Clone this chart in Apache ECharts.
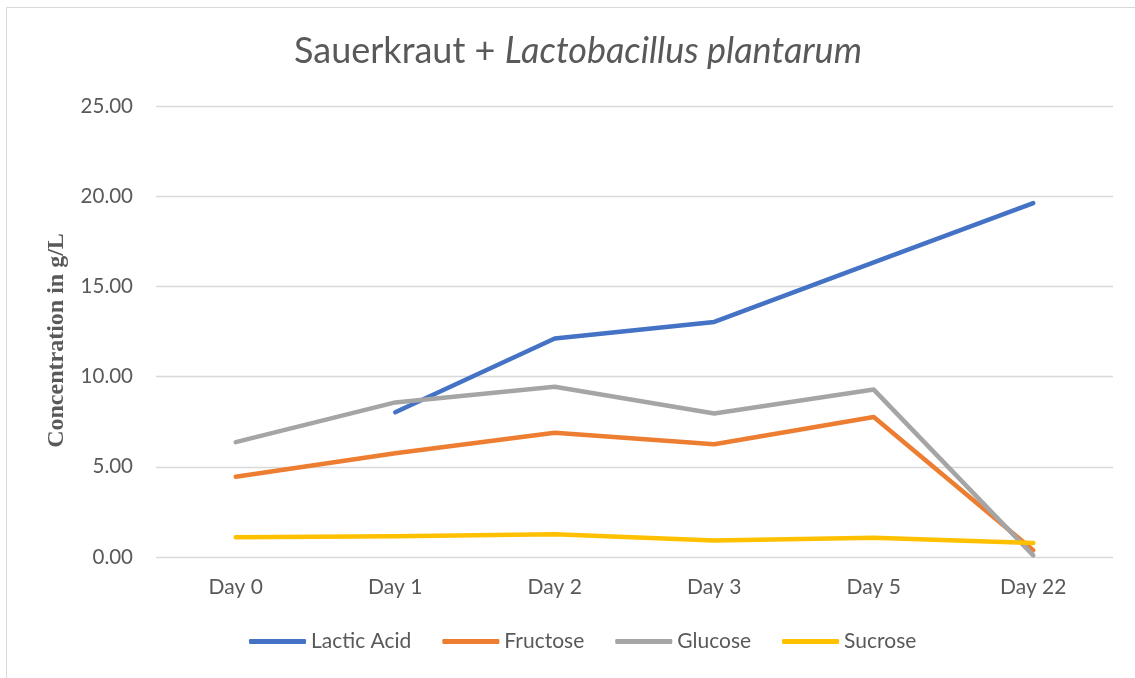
<!DOCTYPE html>
<html>
<head>
<meta charset="utf-8">
<script src="https://cdn.jsdelivr.net/npm/echarts@6/dist/echarts.min.js"></script>
<style>
  html, body { margin: 0; padding: 0; background: #fff; }
  #chart { width: 1135px; height: 678px; }
</style>
</head>
<body>
<div id="chart"></div>
<script>
// Sampling days
const days = ['Day 0', 'Day 1', 'Day 2', 'Day 3', 'Day 5', 'Day 22'];

// Concentrations in g/L (null = not measured)
const lacticAcid = [null, 8.02, 12.11, 13.03, 16.33, 19.62];
const fructose   = [4.45, 5.75, 6.89, 6.25, 7.76, 0.37];
const glucose    = [6.37, 8.57, 9.44, 7.95, 9.28, 0.09];
const sucrose    = [1.09, 1.15, 1.26, 0.92, 1.07, 0.78];

const seriesNames  = ['Lactic Acid', 'Fructose', 'Glucose', 'Sucrose'];
const seriesData   = [lacticAcid, fructose, glucose, sucrose];
const seriesColors = ['#4472C4', '#ED7D31', '#A5A5A5', '#FFC000'];

const textColor = '#595959';
const uiFont = 'Lato, "Open Sans", sans-serif';

const chart = echarts.init(document.getElementById('chart'), null, { renderer: 'canvas' });

chart.setOption({
  animation: false,
  backgroundColor: '#ffffff',
  title: {
    text: '{n|Sauerkraut + }{i|Lactobacillus plantarum}',
    left: 289,
    top: 28,
    textStyle: {
      rich: {
        n: { fontFamily: uiFont, fontSize: 36, color: textColor, fontWeight: 'normal' },
        i: { fontFamily: uiFont, fontSize: 36, color: textColor, fontStyle: 'italic', fontWeight: 'normal' }
      }
    }
  },
  graphic: [{
    type: 'rect',
    shape: { x: 6.5, y: 7.5, width: 1300, height: 1000 },
    style: { fill: 'none', stroke: '#D9D9D9', lineWidth: 1 },
    silent: true
  }],
  legend: {
    data: seriesNames,
    bottom: 21,
    left: 244,
    itemWidth: 57,
    itemHeight: 5,
    itemGap: 31,
    icon: 'roundRect',
    textStyle: { fontFamily: uiFont, fontSize: 21, color: textColor }
  },
  grid: { left: 156, right: 22, top: 106, bottom: 121 },
  xAxis: {
    type: 'category',
    data: days,
    boundaryGap: true,
    axisLine: { show: false },
    axisTick: { show: false },
    axisLabel: { fontFamily: uiFont, fontSize: 21, color: textColor, margin: 20 }
  },
  yAxis: {
    type: 'value',
    min: 0,
    max: 25,
    interval: 5,
    name: 'Concentration in g/L',
    nameLocation: 'middle',
    nameGap: 87,
    nameTextStyle: {
      fontFamily: '"Liberation Serif", "DejaVu Serif", serif',
      fontWeight: 'bold',
      fontSize: 24,
      color: textColor,
      padding: [0, 18, 0, 0]
    },
    axisLine: { show: false },
    axisTick: { show: false },
    axisLabel: {
      fontFamily: uiFont,
      fontSize: 20.5,
      color: textColor,
      margin: 23,
      formatter: v => v.toFixed(2)
    },
    splitLine: { lineStyle: { color: '#D9D9D9', width: 1.3 } }
  },
  series: seriesNames.map((name, i) => ({
    name,
    type: 'line',
    data: seriesData[i],
    symbol: 'none',
    connectNulls: false,
    color: seriesColors[i],
    lineStyle: { width: 4.5, color: seriesColors[i], cap: 'round', join: 'round' }
  }))
});
</script>
</body>
</html>
